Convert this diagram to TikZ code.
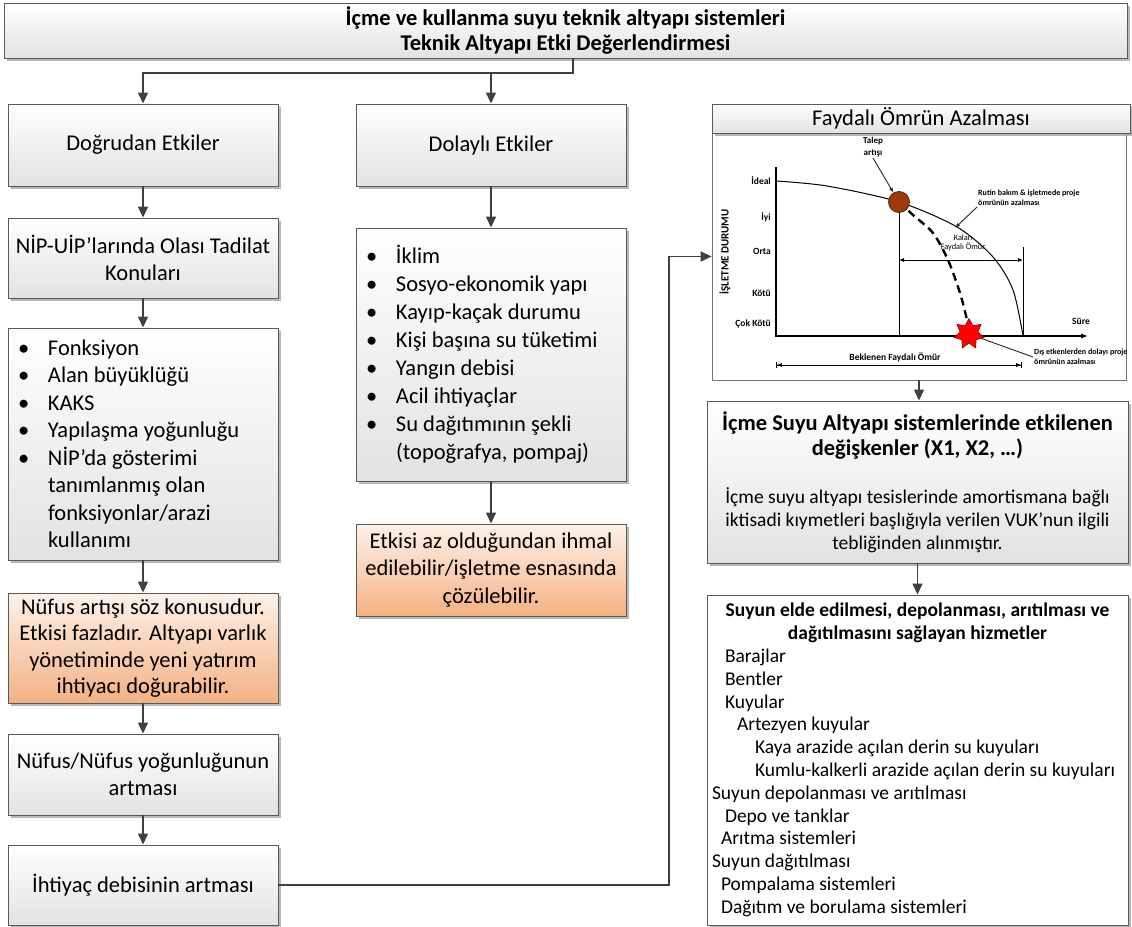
\documentclass[tikz,border=0pt]{standalone}
\usepackage{fontspec}
\setmainfont{Carlito}
\usetikzlibrary{arrows.meta,shadows,shapes.geometric}
\definecolor{bord}{HTML}{5A5A5A}
\definecolor{arr}{HTML}{404040}
\definecolor{gbot}{HTML}{E2E2E2}
\definecolor{otop}{HTML}{FDF2E9}
\definecolor{obot}{HTML}{F4B183}
\definecolor{ball}{HTML}{9C3A0C}
\newcommand{\bitem}{\makebox[30pt][l]{•}}
\newcommand{\bcont}{\hspace*{30pt}}
\begin{document}
\begin{tikzpicture}[x=1pt,y=-1pt,
  box/.style={draw=bord, line width=0.9pt, top color=white, bottom color=gbot,
    drop shadow={shadow xshift=2.5pt, shadow yshift=-2.5pt, fill=black!40, opacity=0.7},
    inner sep=0pt, align=center, font=\fontsize{22.5}{27.5}\selectfont},
  obox/.style={box, top color=otop, bottom color=obot},
  wbox/.style={box, top color=white, bottom color=white},
  link/.style={draw=arr, line width=1.4pt, -{Triangle[length=11pt,width=10pt]}},
  thin/.style={line width=0.9pt, draw=black!85},
  lbl/.style={font=\bfseries\fontsize{9.5}{10}\selectfont, inner sep=1pt},
  small/.style={font=\bfseries\fontsize{8}{10}\selectfont, inner sep=1pt, align=flush left},
]
\useasboundingbox (0,0) rectangle (1132,926);

% ---------- top ----------
\node[box, font=\bfseries\fontsize{22.5}{25.5}\selectfont, minimum width=1123pt, minimum height=55pt] (top) at (565.5,30.5)
  {İçme ve kullanma suyu teknik altyapı sistemleri\\Teknik Altyapı Etki Değerlendirmesi};

% ---------- left column ----------
\node[box, minimum width=270pt, minimum height=82pt] (dog) at (143,145) {Doğrudan Etkiler};
\node[box, minimum width=270pt, minimum height=80pt] (nip) at (143,258) {NİP-UİP’larında Olası Tadilat\\Konuları};
\node[box, minimum width=270pt, minimum height=232pt, text width=250pt, align=flush left] (fonk) at (143,444)
  {\bitem Fonksiyon\\ \bitem Alan büyüklüğü\\ \bitem KAKS\\ \bitem Yapılaşma yoğunluğu\\ \bitem NİP’da gösterimi\\ \bcont tanımlanmış olan\\ \bcont fonksiyonlar/arazi\\ \bcont kullanımı};
\node[obox, minimum width=270pt, minimum height=110pt, font=\fontsize{22.5}{26.5}\selectfont] (nuf) at (143,648)
  {Nüfus artışı söz konusudur.\\Etkisi fazladır. Altyapı varlık\\yönetiminde yeni yatırım\\ihtiyacı doğurabilir.};
\node[box, minimum width=270pt, minimum height=81pt] (yog) at (143,774.5) {Nüfus/Nüfus yoğunluğunun\\artması};
\node[box, minimum width=270pt, minimum height=80pt] (iht) at (143,885) {İhtiyaç debisinin artması};

% ---------- middle column ----------
\node[box, minimum width=270pt, minimum height=82pt] (dol) at (491,145) {Dolaylı Etkiler};
\node[box, minimum width=270pt, minimum height=253pt, text width=250pt, align=flush left, font=\fontsize{22.5}{28}\selectfont] (ikl) at (491,354.5)
  {\bitem İklim\\ \bitem Sosyo-ekonomik yapı\\ \bitem Kayıp-kaçak durumu\\ \bitem Kişi başına su tüketimi\\ \bitem Yangın debisi\\ \bitem Acil ihtiyaçlar\\ \bitem Su dağıtımının şekli\\ \bcont (topoğrafya, pompaj)};
\node[obox, minimum width=270pt, minimum height=92pt] (etk) at (491,570)
  {Etkisi az olduğundan ihmal\\edilebilir/işletme esnasında\\çözülebilir.};

% ---------- right column ----------
\node[draw=black!55, line width=0.8pt, fill=white, minimum width=414pt, minimum height=247pt, inner sep=0pt] (chart) at (919,256.5) {};
\node[box, minimum width=418pt, minimum height=29pt] (fay) at (921,118.5) {Faydalı Ömrün Azalması};
\node[box, minimum width=421pt, minimum height=162pt, text width=411pt, align=flush center] (icme) at (917.5,482)
  {{\bfseries\fontsize{22.5}{25}\selectfont İçme Suyu Altyapı sistemlerinde etkilenen\\değişkenler (X1, X2, …)\par}\vspace{25pt}%
   {\fontsize{19.5}{23}\selectfont İçme suyu altyapı tesislerinde amortismana bağlı\\iktisadi kıymetleri başlığıyla verilen VUK’nun ilgili\\tebliğinden alınmıştır.\par}};
\node[wbox, minimum width=421pt, minimum height=330pt, text width=411pt, align=flush left, font=\fontsize{19.5}{22.8}\selectfont] (suy) at (917.5,760)
  {\makebox[411pt]{\bfseries Suyun elde edilmesi, depolanması, arıtılması ve}\\
   \makebox[411pt]{\bfseries dağıtılmasını sağlayan hizmetler}\\
   \hspace*{13pt}Barajlar\\
   \hspace*{13pt}Bentler\\
   \hspace*{13pt}Kuyular\\
   \hspace*{25pt}Artezyen kuyular\\
   \hspace*{43pt}Kaya arazide açılan derin su kuyuları\\
   \hspace*{43pt}Kumlu-kalkerli arazide açılan derin su kuyuları\\
   Suyun depolanması ve arıtılması\\
   \hspace*{13pt}Depo ve tanklar\\
   \hspace*{9pt}Arıtma sistemleri\\
   Suyun dağıtılması\\
   \hspace*{9pt}Pompalama sistemleri\\
   \hspace*{9pt}Dağıtım ve borulama sistemleri};

% ---------- chart contents ----------
\coordinate (O) at (776,336);
\coordinate (ytop) at (776,167);
\coordinate (xend) at (1088,336);
\draw[line width=1.1pt, -{Latex[length=7pt,width=5pt]}] (ytop) -- (O) -- (xend);
\node[lbl, anchor=east] (lideal) at (772,181) {İdeal};
\node[lbl, anchor=east] (liyi) at (772,217) {İyi};
\node[lbl, anchor=east] (lorta) at (772,251) {Orta};
\node[lbl, anchor=east] (lkotu) at (772,293) {Kötü};
\node[lbl, anchor=east] (lcok) at (772,324) {Çok Kötü};
\node[font=\bfseries\fontsize{11}{12}\selectfont, rotate=90] (ldur) at (725,252) {İŞLETME DURUMU};
\node[lbl] (lsure) at (1081,321) {Süre};

\draw[line width=1pt] plot[smooth] coordinates {(776,181) (827,186) (899,202) (957,227) (993,257) (1013,290) (1023,336)};
\draw[line width=1pt] (899,202) -- (899,336);
\draw[line width=1pt] (1023,247) -- (1023,336);
\draw[line width=0.8pt, {Latex[length=5pt,width=4pt]}-{Latex[length=5pt,width=4pt]}] (899,260) -- (1023,260);
\node[font=\fontsize{8.3}{9}\selectfont, align=center, inner sep=0pt] (lkalan) at (963,243) {Kalan\\Faydalı Ömür};
\draw[line width=2.4pt, dash pattern=on 8pt off 5pt] plot[smooth] coordinates {(899,202) (913,215) (933,233) (948,260) (960,293) (967,320) (969,333)};

\node[circle, fill=ball, draw=ball!60!black, line width=0.8pt, minimum size=21pt, inner sep=0pt] (talep) at (899,202) {};
\node[star, star points=7, star point ratio=1.7, fill=red, draw=red!55!black, line width=0.6pt, minimum size=31pt, inner sep=0pt] (star) at (969,334) {};

\node[font=\bfseries\fontsize{9}{12}\selectfont, align=center, inner sep=1pt] (ltalep) at (873,147) {Talep\\artışı};
\draw[thin, -{Latex[length=5pt,width=4pt]}] (ltalep.south) -- (talep);
\node[small, anchor=west] (lrutin) at (977,198) {Rutin bakım \& işletmede proje\\ömrünün azalması};
\coordinate (rutend) at (955,228);
\draw[thin, -{Latex[length=5pt,width=4pt]}] (lrutin.south west) -- (rutend);
\node[small, anchor=west] (ldis) at (1033,357) {Dış etkenlerden dolayı proje\\ömrünün azalması};
\draw[thin] (star) -- (ldis.west);
\node[font=\bfseries\fontsize{9.5}{10}\selectfont, inner sep=1pt] (lbek) at (895,357) {Beklenen Faydalı Ömür};
\coordinate (bekA) at (776,365);
\coordinate (bekB) at (1022,365);
\draw[line width=0.8pt, {Bar[width=6pt]Latex[length=5pt,width=4pt]}-{Latex[length=5pt,width=4pt]Bar[width=6pt]}] (bekA) -- (bekB);

% ---------- connectors ----------
\coordinate (j) at (573,73);
\coordinate (bend) at (669,0);
\draw[link] (top.south -| j) -- (j) -| (dog.north);
\draw[link] (j -| dol.north) -- (dol.north);
\draw[link] (dog) -- (nip);
\draw[link] (nip) -- (fonk);
\draw[link] (fonk) -- (nuf);
\draw[link] (nuf) -- (yog);
\draw[link] (yog) -- (iht);
\draw[link] (dol) -- (ikl);
\draw[link] (ikl) -- (etk);
\draw[link] (iht.east) -- (iht.east -| bend) |- (chart.west);
\draw[link] (chart.south) -- (chart.south |- icme.north);
\draw[link] (icme.south) -- (icme.south |- suy.north);
\end{tikzpicture}
\end{document}
